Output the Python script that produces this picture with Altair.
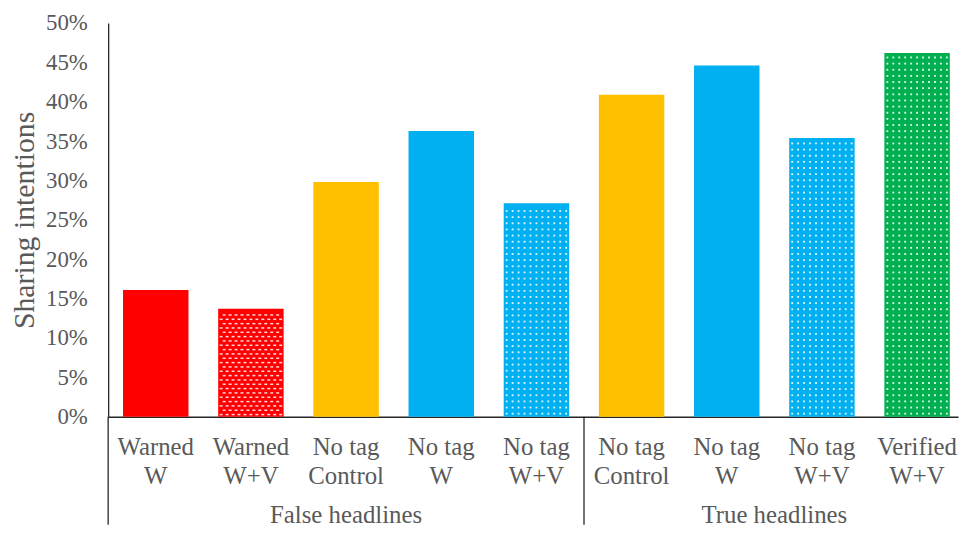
import altair as alt
import pandas as pd

# ---- data ----
groups = ["False headlines"] * 5 + ["True headlines"] * 4
line1 = ["Warned", "Warned", "No tag", "No tag", "No tag", "No tag", "No tag", "No tag", "Verified"]
line2 = ["W", "W+V", "Control", "W", "W+V", "Control", "W", "W+V", "W+V"]
values = [16.1, 13.7, 29.8, 36.3, 27.1, 40.9, 44.6, 35.4, 46.2]
colors = ["#FF0000", "#FF0000", "#FFC000", "#00B0F0", "#00B0F0", "#FFC000", "#00B0F0", "#00B0F0", "#00B050"]
patterned = [False, True, False, False, True, False, False, True, True]
y_ticks = [0, 5, 10, 15, 20, 25, 30, 35, 40, 45, 50]

# ---- styling constants ----
FONT = "Liberation Serif"
GREY = "#595959"
AXIS = "#262626"
W, H = 857, 397
PATTERN = {
    "#FF0000": (0.0625, 0.55, "M-1,-0.5H1V0.5H-1Z", 9),
    "#00B0F0": (0.0625, 0.78, "square", 3.5),
    "#00B050": (0.0625, 0.78, "square", 3.5),
}

idx = list(range(len(values)))
df = pd.DataFrame({"i": idx, "value": values, "color": colors,
                   "l1": line1, "l2": line2, "group": groups})

rows = []
for i, v, c, p in zip(idx, values, colors, patterned):
    if not p:
        continue
    sx, sy, shp, sz = PATTERN[c]
    n = int(v / sy)
    stagger = c == "#FF0000"
    for r in range(n):
        yy = sy * (r + 0.5)
        if yy > v - 0.2:
            continue
        off = sx / 2 if (stagger and r % 2) else 0
        for k in range(-5, 6):
            xx = i + k * sx + off
            if abs(xx - i) > 0.32:
                continue
            rows.append({"x": xx, "y": yy, "kind": c})
dots = pd.DataFrame(rows)

gnames = list(dict.fromkeys(groups))
gdf = pd.DataFrame({
    "group": gnames,
    "center": [sum(j for j, g in zip(idx, groups) if g == n) / groups.count(n) for n in gnames],
    "sep": [min(j for j, g in zip(idx, groups) if g == n) - 0.5 for n in gnames],
})

xscale = alt.Scale(domain=[-0.5, 8.43], nice=False, zero=False, padding=0)
yscale = alt.Scale(domain=[0, 50], nice=False, padding=0)

xaxis = alt.Axis(labels=False, ticks=False, title=None, grid=False,
                 domainColor=AXIS, domainWidth=1.3)
yaxis = alt.Axis(values=y_ticks, labelExpr="datum.value + '%'", grid=False, ticks=False,
                 labelOverlap=False,
                 domainColor=AXIS, domainWidth=1.3, labelFont=FONT, labelFontSize=23,
                 labelColor=GREY, labelPadding=21, title="Sharing intentions",
                 titleFont=FONT, titleFontSize=30, titleFontWeight="normal",
                 titleColor=GREY, titleX=-84, titleY=H / 2, titleAngle=-90,
                 titleAlign="center", titleBaseline="middle")

bars = alt.Chart(df).mark_bar(size=66).encode(
    x=alt.X("i:Q", scale=xscale, axis=xaxis),
    y=alt.Y("value:Q", scale=yscale, axis=yaxis),
    color=alt.Color("color:N", scale=None),
)

dot_layers = []
for c, (sx, sy, shp, sz) in PATTERN.items():
    dot_layers.append(
        alt.Chart(dots[dots["kind"] == c]).mark_point(
            shape=shp, size=sz, filled=True, color="white", opacity=0.85, strokeWidth=0
        ).encode(x=alt.X("x:Q", scale=xscale, axis=xaxis),
                 y=alt.Y("y:Q", scale=yscale, axis=yaxis))
    )

lab1 = alt.Chart(df).mark_text(font=FONT, fontSize=25, color=GREY, baseline="alphabetic").encode(
    x=alt.X("i:Q", scale=xscale, axis=xaxis), y=alt.value(H + 39), text="l1:N")
lab2 = alt.Chart(df).mark_text(font=FONT, fontSize=25, color=GREY, baseline="alphabetic").encode(
    x=alt.X("i:Q", scale=xscale, axis=xaxis), y=alt.value(H + 68), text="l2:N")
glab = alt.Chart(gdf).mark_text(font=FONT, fontSize=25, color=GREY, baseline="alphabetic").encode(
    x=alt.X("center:Q", scale=xscale, axis=xaxis), y=alt.value(H + 107), text="group:N")
seps = alt.Chart(gdf).mark_rule(color=AXIS, strokeWidth=1.3).encode(
    x=alt.X("sep:Q", scale=xscale, axis=xaxis), y=alt.value(H), y2=alt.value(H + 109))

chart = alt.layer(bars, *dot_layers, lab1, lab2, glab, seps).properties(
    width=W, height=H,
    autosize=alt.AutoSizeParams(type="none"),
    padding={"left": 101, "top": 13, "right": 2, "bottom": 109},
).configure_view(stroke=None)

chart.save("out.html", embed_options={"renderer": "svg", "actions": False})
